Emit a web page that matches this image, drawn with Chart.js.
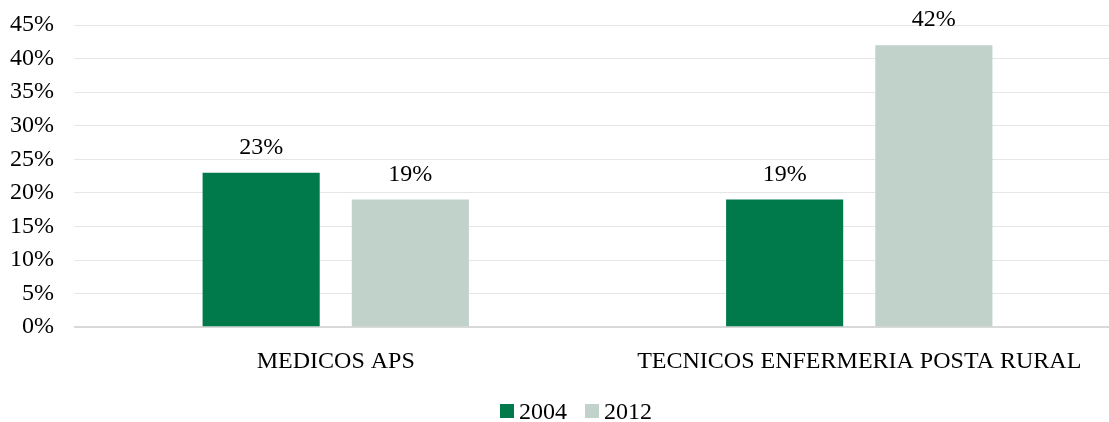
<!DOCTYPE html>
<html>
<head>
<meta charset="utf-8">
<script src="https://cdn.jsdelivr.net/npm/chart.js@4"></script>
<style>
  html, body { margin: 0; padding: 0; background: #fff; overflow: hidden; }
  #wrap { width: 1121px; height: 422px; }
</style>
</head>
<body>
<div id="wrap"><canvas id="chart"></canvas></div>
<script>
const categories = ['MEDICOS APS', 'TECNICOS ENFERMERIA POSTA RURAL'];
const series2004 = [23, 19];
const series2012 = [19, 42];
const seriesNames = ['2004', '2012'];

const FONT = '"Liberation Serif", "Times New Roman", serif';

// labels above each bar
const valueLabels = {
  id: 'valueLabels',
  afterDatasetsDraw(chart) {
    const ctx = chart.ctx;
    ctx.save();
    ctx.font = '24px ' + FONT;
    ctx.fillStyle = '#000';
    ctx.textAlign = 'center';
    ctx.textBaseline = 'alphabetic';
    chart.data.datasets.forEach((ds, i) => {
      chart.getDatasetMeta(i).data.forEach((bar, j) => {
        ctx.fillText(ds.data[j] + '%', bar.x, bar.y - 19);
      });
    });
    ctx.restore();
  }
};

// Excel-like legend: small square, tight gap to the text
const bottomLegend = {
  id: 'bottomLegend',
  afterDraw(chart) {
    const ctx = chart.ctx;
    ctx.save();
    ctx.font = '24px ' + FONT;
    ctx.textBaseline = 'alphabetic';
    ctx.textAlign = 'left';
    const box = 14, gap = 5, itemGap = 18;
    const items = chart.data.datasets.map(ds => ({
      text: ds.label, color: ds.backgroundColor, w: ctx.measureText(ds.label).width
    }));
    const total = items.reduce((s, it) => s + box + gap + it.w, 0) + itemGap * (items.length - 1);
    let x = 576 - total / 2;
    const baseY = 419;
    items.forEach(it => {
      ctx.fillStyle = it.color;
      ctx.fillRect(x, baseY - 15, box, box);
      x += box + gap;
      ctx.fillStyle = '#000';
      ctx.fillText(it.text, x, baseY);
      x += it.w + itemGap;
    });
    ctx.restore();
  }
};

new Chart(document.getElementById('chart'), {
  type: 'bar',
  data: {
    labels: categories,
    datasets: [
      { label: seriesNames[0], data: series2004, backgroundColor: '#007A4B' },
      { label: seriesNames[1], data: series2012, backgroundColor: '#C0D2CA' }
    ]
  },
  options: {
    responsive: true,
    maintainAspectRatio: false,
    animation: false,
    categoryPercentage: 0.57,
    barPercentage: 0.785,
    layout: { padding: { left: 0, right: 0, top: 0, bottom: 34 } },
    plugins: {
      legend: { display: false },
      tooltip: { enabled: false }
    },
    scales: {
      x: {
        grid: { display: false },
        border: { display: false },
        ticks: { font: { family: FONT, size: 24 }, color: '#000', padding: 12 }
      },
      y: {
        min: 0,
        max: 45,
        border: { display: false },
        afterFit: scale => { scale.width = 74; scale.paddingTop = 25; },
        grid: {
          color: ctx => ctx.tick.value === 0 ? '#d9d9d9' : '#e6e6e6',
          lineWidth: ctx => ctx.tick.value === 0 ? 2 : 1,
          drawTicks: false
        },
        ticks: {
          stepSize: 5,
          autoSkip: false,
          font: { family: FONT, size: 24 },
          color: '#000',
          padding: 20,
          callback: v => v + '%'
        }
      }
    }
  },
  plugins: [valueLabels, bottomLegend]
});
</script>
</body>
</html>
